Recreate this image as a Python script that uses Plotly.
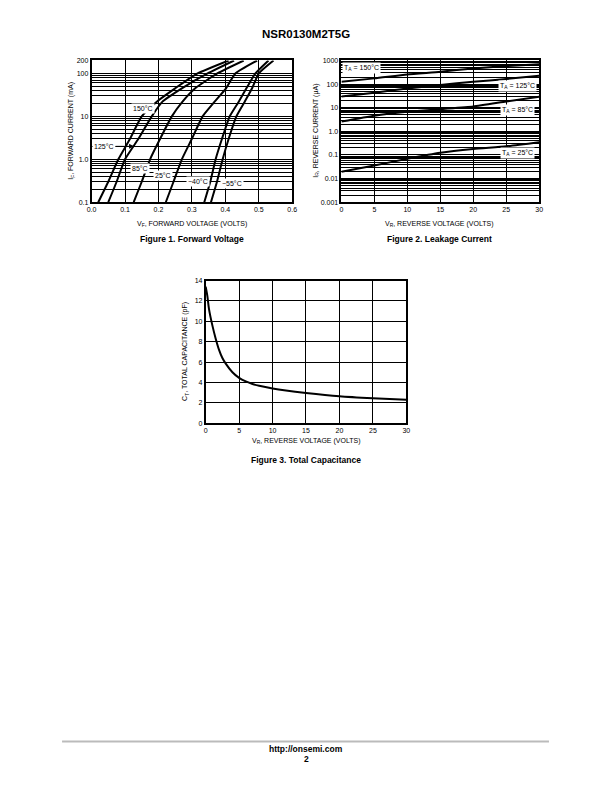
import math
import plotly.graph_objects as go

# ---------------- Data ----------------
# Figure 1: forward voltage (V) vs forward current (mA)
fwd_temps = ["150°C", "125°C", "85°C", "25°C", "−40°C", "−55°C"]
fwd_i = [0.1, 0.3, 1, 3, 10, 22, 45, 100, 200]
fwd_v_150 = [0.020, 0.050, 0.080, 0.115, 0.150, 0.195, 0.250, 0.317, 0.410]
fwd_v_125 = [0.050, 0.075, 0.100, 0.140, 0.180, 0.212, 0.270, 0.347, 0.426]
fwd_v_85 = [0.126, 0.150, 0.175, 0.205, 0.240, 0.272, 0.310, 0.376, 0.455]
fwd_v_25 = [0.222, 0.245, 0.270, 0.300, 0.332, 0.368, 0.402, 0.430, 0.495]
fwd_v_m40 = [0.337, 0.355, 0.371, 0.390, 0.413, 0.440, 0.463, 0.490, 0.529]
fwd_v_m55 = [0.357, 0.375, 0.392, 0.410, 0.433, 0.458, 0.480, 0.500, 0.544]

# Figure 2: reverse voltage (V) vs reverse current (uA)
rev_v = [0, 5, 10, 15, 20, 25, 30]
rev_i_150 = [126, 175, 258, 333, 461, 578, 700]
rev_i_125 = [30, 43.6, 66, 92, 126, 164, 227]
rev_i_85 = [2.6, 4.6, 6.7, 8.7, 11.3, 18.3, 29]
rev_i_25 = [0.0197, 0.036, 0.069, 0.124, 0.18, 0.235, 0.35]

# Figure 3: reverse voltage (V) vs total capacitance (pF)
cap_v = [0, 0.25, 0.5, 1, 1.5, 2, 2.5, 3, 4, 5, 6, 7, 8, 10, 12, 15, 20, 25, 30]
cap_c = [13.4, 12.5, 11.2, 9.6, 8.3, 7.2, 6.4, 5.85, 5.0, 4.45, 4.1, 3.85, 3.68,
         3.42, 3.22, 2.98, 2.65, 2.45, 2.3]

fig1_ytickvals = [0.1, 1, 10, 100, 200]
fig1_yticks = ["0.1", "1.0", "10", "100", "200"]
fig2_ytickvals = [0.001, 0.01, 0.1, 1, 10, 100, 1000]
fig2_yticks = ["0.001", "0.01", "0.1", "1.0", "10", "100", "1000"]

FONT = "Liberation Sans, Arial, Helvetica, sans-serif"
W, H = 612, 792


def px_x(p):
    return p / W


def px_y(p):
    return 1 - p / H


fig = go.Figure()

for v, name in zip([fwd_v_150, fwd_v_125, fwd_v_85, fwd_v_25, fwd_v_m40, fwd_v_m55], fwd_temps):
    fig.add_trace(go.Scatter(x=v, y=fwd_i, mode="lines",
                             line=dict(color="black", width=2, shape="spline", smoothing=0.5),
                             xaxis="x", yaxis="y", showlegend=False, name=name))

for i_vals, name in zip([rev_i_150, rev_i_125, rev_i_85, rev_i_25], ["150", "125", "85", "25"]):
    fig.add_trace(go.Scatter(x=rev_v, y=i_vals, mode="lines",
                             line=dict(color="black", width=2, shape="spline", smoothing=0.5),
                             xaxis="x2", yaxis="y2", showlegend=False, name=name))

fig.add_trace(go.Scatter(x=cap_v, y=cap_c, mode="lines",
                         line=dict(color="black", width=2, shape="spline", smoothing=0.8),
                         xaxis="x3", yaxis="y3", showlegend=False))


def log_grid(lo_exp, hi_exp):
    vals = []
    for e in range(lo_exp, hi_exp):
        for m in range(2, 10):
            vals.append(m * 10 ** e)
    return vals


g1 = log_grid(-1, 2)
g2 = log_grid(-3, 3)

tickfont = dict(family=FONT, size=7, color="black")
common = dict(showgrid=True, gridcolor="black", gridwidth=1, showline=True, linecolor="black",
              linewidth=1.5, mirror=True, ticks="", zeroline=False, tickfont=tickfont)

fig.update_layout(
    width=W, height=H, margin=dict(l=0, r=0, t=0, b=0),
    paper_bgcolor="white", plot_bgcolor="white",
    xaxis=dict(domain=[px_x(88), px_x(292)], range=[0, 0.6], tickvals=[0, 0.1, 0.2, 0.3, 0.4, 0.5, 0.6],
               tickformat=".1f", anchor="y", **common),
    yaxis=dict(domain=[px_y(200), px_y(57)], type="log", range=[-1, math.log10(200)],
               tickvals=fig1_ytickvals, ticktext=fig1_yticks, anchor="x",
               minor=dict(tickmode="array", tickvals=g1, showgrid=True, gridcolor="black", gridwidth=1, ticks=""),
               **common),
    xaxis2=dict(domain=[px_x(342), px_x(543)], range=[0, 30], tickvals=[0, 5, 10, 15, 20, 25, 30],
                anchor="y2", **common),
    yaxis2=dict(domain=[px_y(200), px_y(57)], type="log", range=[-3, 3],
                tickvals=fig2_ytickvals, ticktext=fig2_yticks, anchor="x2",
                minor=dict(tickmode="array", tickvals=g2, showgrid=True, gridcolor="black", gridwidth=1, ticks=""),
                **common),
    xaxis3=dict(domain=[px_x(204), px_x(408)], range=[0, 30], tickvals=[0, 5, 10, 15, 20, 25, 30],
                anchor="y3", **common),
    yaxis3=dict(domain=[px_y(423), px_y(279)], range=[0, 14], tickvals=[0, 2, 4, 6, 8, 10, 12, 14],
                anchor="x3", **common),
)

ann = []


def text(xp, yp, s, size=7, bold=False, angle=0):
    if bold:
        s = "<b>" + s + "</b>"
    ann.append(dict(x=px_x(xp), y=px_y(yp), xref="paper", yref="paper", text=s, showarrow=False,
                    font=dict(family=FONT, size=size, color="black"), textangle=angle,
                    xanchor="center", yanchor="middle"))


text(306, 30, "NSR0130M2T5G", size=11.5, bold=True)
text(190, 222, "V<sub>F</sub>, FORWARD VOLTAGE (VOLTS)")
text(190, 237, "Figure 1. Forward Voltage", size=8.5, bold=True)
text(67, 128, "I<sub>F</sub>, FORWARD CURRENT (mA)", angle=-90)
text(442, 222, "V<sub>R</sub>, REVERSE VOLTAGE (VOLTS)")
text(442, 237, "Figure 2. Leakage Current", size=8.5, bold=True)
text(316, 128, "I<sub>R</sub>, REVERSE CURRENT (μA)", angle=-90)
text(306, 441, "V<sub>R</sub>, REVERSE VOLTAGE (VOLTS)")
text(306, 460, "Figure 3. Total Capacitance", size=8.5, bold=True)
text(183, 351, "C<sub>T</sub>, TOTAL CAPACITANCE (pF)", angle=-90)
text(306, 752, "http://onsemi.com", size=8.5, bold=True)
text(306, 762, "2", size=8.5, bold=True)


def lab(x, y, s, xr, yr):
    ann.append(dict(x=x, y=y, xref=xr, yref=yr, text=s, showarrow=False, bgcolor="white",
                    font=dict(family=FONT, size=7, color="black"), borderpad=1,
                    xanchor="center", yanchor="middle"))


lab(0.153, math.log10(15.6), "150°C", "x", "y")
lab(0.215, math.log10(0.42), "25°C", "x", "y")
lab(0.144, math.log10(0.62), "85°C", "x", "y")
lab(0.318, math.log10(0.31), "−40°C", "x", "y")
lab(0.42, math.log10(0.27), "−55°C", "x", "y")
ann.append(dict(x=0.127, y=math.log10(2.0), xref="x", yref="y", ax=-30, ay=0, text="125°C", showarrow=True,
                arrowhead=2, arrowsize=1, arrowwidth=1, arrowcolor="black", bgcolor="white",
                font=dict(family=FONT, size=7, color="black"), borderpad=1))

lab(3.1, math.log10(460), "T<sub>A</sub> = 150°C", "x2", "y2")
lab(26.7, math.log10(81), "T<sub>A</sub> = 125°C", "x2", "y2")
lab(26.7, math.log10(7.9), "T<sub>A</sub> = 85°C", "x2", "y2")
lab(26.7, math.log10(0.126), "T<sub>A</sub> = 25°C", "x2", "y2")

fig.update_layout(annotations=ann)

fig.add_shape(type="line", xref="paper", yref="paper", x0=px_x(58), x1=px_x(553), y0=px_y(744), y1=px_y(744),
              line=dict(color="#bbbbbb", width=2))

fig.write_html(
    "out.html",
    config={"displayModeBar": False},
    post_script="document.body.style.margin='0';document.body.style.padding='0';"
                "document.documentElement.style.overflow='hidden';document.body.style.overflow='hidden';",
)
